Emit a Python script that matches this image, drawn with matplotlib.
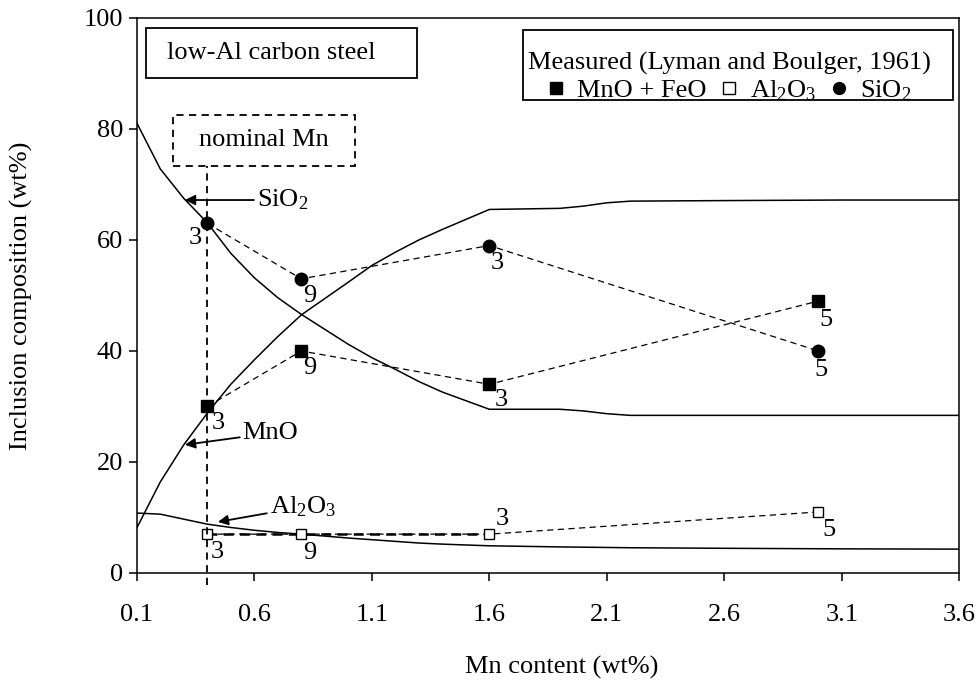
#Inclusion composition vs. Mn content, low-Al carbon steel
import numpy as np
import matplotlib.pyplot as plt
from matplotlib.lines import Line2D
from matplotlib.patches import Rectangle

plt.rcParams['font.family'] = ['Liberation Serif', 'DejaVu Serif']
plt.rcParams['mathtext.fontset'] = 'custom'
plt.rcParams['mathtext.rm'] = 'Liberation Serif'
plt.rcParams['mathtext.it'] = 'Liberation Serif:italic'
fs = 19

#calculated curves
calc_mn = [0.1, 0.2, 0.3, 0.4, 0.5, 0.6, 0.7, 0.8, 1.0, 1.1, 1.2, 1.3, 1.4, 1.6,
           1.9, 2.0, 2.1, 2.2, 2.6, 3.1, 3.6]
calc_sio2 = [81.1, 72.8, 67.5, 63.1, 57.6, 53.2, 49.6, 46.6, 41.2, 38.8, 36.7, 34.5,
             32.6, 29.5, 29.5, 29.2, 28.7, 28.4, 28.4, 28.4, 28.4]
calc_mno = [8.1, 16.4, 23.1, 28.8, 34.0, 38.4, 42.6, 46.5, 52.4, 55.4, 57.8, 60.0,
            61.9, 65.5, 65.7, 66.1, 66.7, 67.0, 67.1, 67.2, 67.2]
calc_al2o3 = [10.8, 10.6, 9.7, 8.8, 8.2, 7.7, 7.3, 7.0, 6.3, 6.0, 5.7, 5.4,
              5.2, 4.9, 4.7, 4.65, 4.6, 4.55, 4.45, 4.35, 4.3]

#measured (Lyman and Boulger, 1961)
meas_mn = [0.4, 0.8, 1.6, 3.0]
meas_mno_feo = [30, 40, 34, 49]
meas_al2o3 = [7, 7, 7, 11]
meas_sio2 = [63, 53, 59, 40]
n_samples = [3, 9, 3, 5]

nominal_mn = 0.4

fig = plt.figure(figsize=(9.77, 6.81), dpi=100)
ax = fig.add_axes([0.140, 0.1586, 0.842, 0.815])

#calculated lines
ax.plot(calc_mn, calc_sio2, color='black', lw=1.1)
ax.plot(calc_mn, calc_mno, color='black', lw=1.1)
ax.plot(calc_mn, calc_al2o3, color='black', lw=1.1)

#measured points
dash = (0, (5, 3.5))
ax.plot(meas_mn, meas_mno_feo, ls=dash, color='black', lw=0.9,
        marker='s', ms=8.5, mfc='black', mec='black')
ax.plot(meas_mn[:3], meas_al2o3[:3], ls=(0, (4, 2.5)), color='black', lw=1.8)
ax.plot(meas_mn, meas_al2o3, ls=dash, color='black', lw=0.9,
        marker='s', ms=7.5, mfc='white', mec='black', mew=1.0)
ax.plot(meas_mn, meas_sio2, ls=dash, color='black', lw=0.9,
        marker='o', ms=9, mfc='black', mec='black')

#sample counts next to the points
off_mno = [(11, -17), (8, -17), (12, -16), (8, -19)]
off_al = [(10, -18), (8, -19), (13, 15), (11, -18)]
off_si = [(-12, -15), (8, -17), (8, -17), (3, -19)]
for i in range(len(meas_mn)):
    for vals, offs in ((meas_mno_feo, off_mno), (meas_al2o3, off_al), (meas_sio2, off_si)):
        ax.annotate(str(n_samples[i]), (meas_mn[i], vals[i]), xytext=offs[i],
                    textcoords='offset pixels', ha='center', va='center', fontsize=fs)

#nominal Mn line and box
ax.plot([nominal_mn, nominal_mn], [-2.2, 73.3], ls=(0, (4, 3)), color='black',
        lw=1.3, clip_on=False)
ax.add_patch(Rectangle((0.253, 73.3), 1.03 - 0.253, 82.6 - 73.3, fill=False,
                       ls=(0, (4, 3)), lw=1.3, ec='black'))
ax.text((0.253 + 1.03) / 2, 78.0, 'nominal Mn', ha='center', va='center', fontsize=fs)

#curve labels
arrow = dict(arrowstyle='-|>', color='black', lw=1.3, mutation_scale=15,
             shrinkA=0, shrinkB=0)
ax.annotate(r'SiO$_2$', xy=(0.305, 67.2), xytext=(0.61, 67.2), ha='left',
            va='center', fontsize=fs, arrowprops=arrow)
ax.annotate('MnO', xy=(0.305, 23.1), xytext=(0.55, 25.2), ha='left',
            va='center', fontsize=fs, arrowprops=arrow)
ax.annotate(r'Al$_2$O$_3$', xy=(0.445, 9.2), xytext=(0.665, 11.9), ha='left',
            va='center', fontsize=fs, arrowprops=arrow)

#steel type box
ax.add_patch(Rectangle((0.011, 0.892), 0.330, 0.090, transform=ax.transAxes,
                       fill=False, lw=1.3, ec='black'))
ax.text(0.037, 0.937, 'low-Al carbon steel', transform=ax.transAxes,
        ha='left', va='center', fontsize=fs)

#legend with its own frame
ax.add_patch(Rectangle((0.4696, 0.852), 0.5231, 0.126, transform=ax.transAxes,
                       fill=True, fc='white', lw=1.3, ec='black', zorder=4))
handles = [Line2D([], [], ls='none', marker='s', ms=8.5, mfc='black', mec='black'),
           Line2D([], [], ls='none', marker='s', ms=8, mfc='white', mec='black'),
           Line2D([], [], ls='none', marker='o', ms=8.5, mfc='black', mec='black')]
leg = ax.legend(handles, ['MnO + FeO', r'Al$_2$O$_3$', r'SiO$_2$'], ncol=3,
                title='Measured (Lyman and Boulger, 1961)', title_fontsize=fs,
                fontsize=fs, loc='center', bbox_to_anchor=(0.720, 0.893),
                frameon=False, handlelength=0.7, handletextpad=0.45,
                columnspacing=0.5, borderpad=0, labelspacing=0.1)
leg.set_zorder(5)

#axes
ax.set_xlim(0.1, 3.6)
ax.set_ylim(0, 100)
ax.set_xticks(np.arange(0.1, 3.61, 0.5))
ax.set_xticklabels(['0.1', '0.6', '1.1', '1.6', '2.1', '2.6', '3.1', '3.6'])
ax.set_yticks([0, 20, 40, 60, 80, 100])
ax.tick_params(direction='out', length=6, width=1.1, labelsize=fs)
ax.tick_params(axis='y', pad=4)
ax.tick_params(axis='x', pad=16)
for s in ax.spines.values():
    s.set_linewidth(1.1)
ax.set_xlabel('Mn content (wt%)', fontsize=fs, labelpad=22)
ax.xaxis.label.set_x(0.516)
ax.set_ylabel('Inclusion composition (wt%)', fontsize=fs, labelpad=36)

plt.savefig('out.png', dpi=100)
